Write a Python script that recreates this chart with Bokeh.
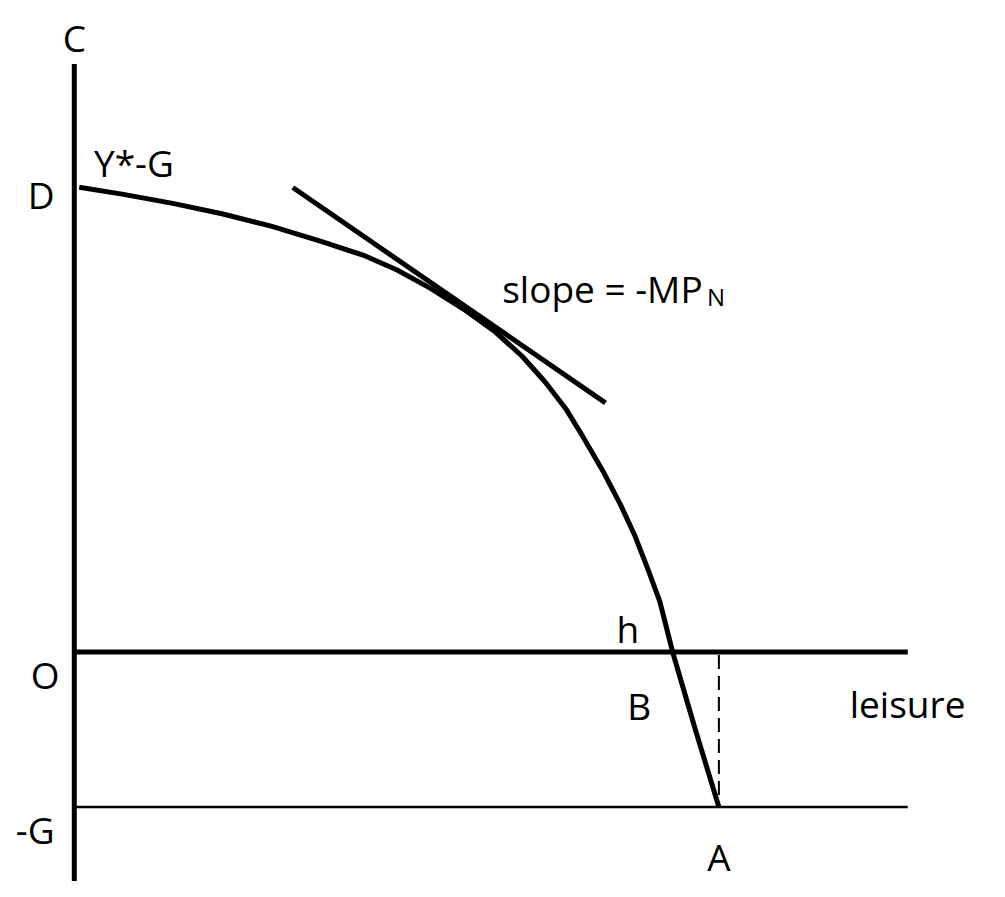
from bokeh.plotting import figure
from bokeh.models import Range1d
from bokeh.core.properties import value
from bokeh.embed import file_html
from bokeh.resources import INLINE

# --- data (economic units: leisure on x, consumption C on y; G = 1) ---
G = 1.0
Y_STAR_MINUS_G = 3.0
H = 1.0  # total time endowment (point A)

# production possibilities frontier C = F(h - l) - G
ppf_leisure = [0.0076, 0.0763, 0.1527, 0.2290, 0.3053, 0.3817, 0.4504, 0.5008,
               0.5527, 0.6031, 0.6534, 0.6947, 0.7298, 0.7634, 0.7863, 0.8214,
               0.8473, 0.8702, 0.8901, 0.9084, 0.9282, 0.9634, 1.0000]
ppf_c = [2.9956, 2.950, 2.8919, 2.825, 2.7456, 2.6481, 2.5544, 2.4625,
         2.3438, 2.2125, 2.0625, 1.9063, 1.7438, 1.5625, 1.4063, 1.1563,
         0.9500, 0.7438, 0.5313, 0.3250, 0.0, -0.5, -1.0]

# tangent line (slope = -MP_N)
tan_leisure = [0.339, 0.824]
tan_c = [2.994, 1.606]

# axis extents
axis_top = 3.79
axis_bottom = -1.50
line_right = 1.293

# labels
label_text = ["C", "D", "Y*-G", "h", "O", "B", "leisure", "-G", "A"]
label_x = [0.0, -0.0305, 0.0305, 0.841, -0.0229, 0.858, 1.203, -0.0305, 1.0]
label_y = [3.9625, 2.95, 3.156, 0.15, -0.144, -0.344, -0.331, -1.144, -1.32]
label_align = ["center", "right", "left", "left", "right", "left", "left", "right", "center"]

FONT = value("Open Sans")

p = figure(width=989, height=881, output_backend="svg", toolbar_location=None,
           x_range=Range1d(-0.1145, 1.4198), y_range=Range1d(-1.48, 4.2),
           min_border=0)
p.axis.visible = False
p.grid.visible = False
p.outline_line_color = None
p.background_fill_color = "white"
p.border_fill_color = "white"

# vertical C axis
p.line([0, 0], [axis_bottom, axis_top], line_color="black", line_width=5)
# horizontal leisure axis at O
p.line([0, line_right], [0, 0], line_color="black", line_width=5)
# -G line
p.line([0, line_right], [-G, -G], line_color="black", line_width=2.5)
# dashed vertical at A
p.line([H, H], [-0.02, -G], line_color="black", line_width=2, line_dash="14 7")
# PPF curve
p.line(ppf_leisure, ppf_c, line_color="black", line_width=5, line_join="round")
# tangent
p.line(tan_leisure, tan_c, line_color="black", line_width=5)

for t, x, y, a in zip(label_text, label_x, label_y, label_align):
    p.text(x=[x], y=[y], text=[t], text_font=FONT, text_font_size="37px",
           text_align=a, text_baseline="alphabetic", text_color="black")

# slope label with subscript
p.text(x=[0.9748], y=[2.344], text=["slope = -MP"], text_font=FONT,
       text_font_size="37px", text_align="right", text_baseline="alphabetic",
       text_color="black")
p.text(x=[0.9817], y=[2.294], text=["N"], text_font=FONT,
       text_font_size="24px", text_align="left", text_baseline="alphabetic",
       text_color="black")

open("out.html", "w").write(file_html(p, INLINE))
